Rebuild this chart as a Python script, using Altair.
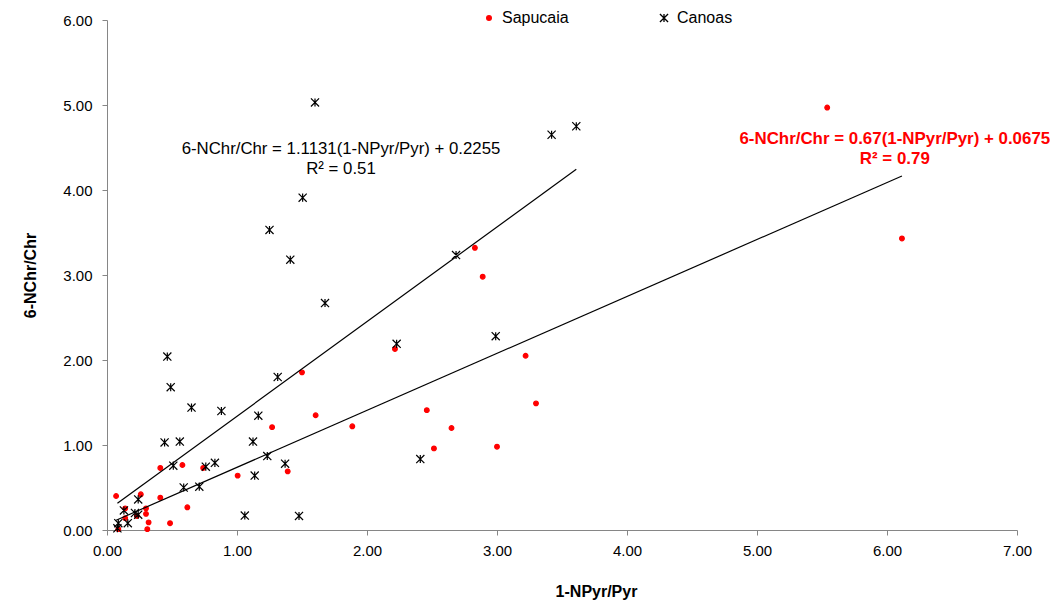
import altair as alt
import pandas as pd

# ---- data ----
sap_x = [5.54, 6.115, 2.83, 2.89, 2.215, 3.22, 1.50, 3.30, 2.46, 1.605, 1.887, 1.27, 2.65,
         2.515, 3.00, 1.39, 1.005, 0.74, 0.58, 0.41, 0.07, 0.26, 0.41, 0.618, 0.30, 0.14,
         0.30, 0.14, 0.32, 0.485, 0.31, 0.087, 0.23]
sap_y = [4.97, 3.43, 3.32, 2.98, 2.13, 2.05, 1.855, 1.49, 1.41, 1.35, 1.22, 1.21, 1.20,
         0.96, 0.98, 0.69, 0.64, 0.73, 0.765, 0.73, 0.40, 0.42, 0.38, 0.267, 0.255, 0.255,
         0.19, 0.14, 0.09, 0.08, 0.01, 0.01, 0.165]

can_x = [1.60, 3.42, 3.61, 1.505, 1.25, 1.41, 2.685, 1.677, 2.228, 2.99, 0.464, 0.49,
         1.313, 0.65, 0.88, 1.164, 0.443, 0.56, 1.123, 1.233, 0.51, 0.83, 0.76, 1.37,
         2.41, 0.59, 0.71, 1.136, 1.06, 1.477, 0.24, 0.13, 0.215, 0.24, 0.16, 0.087, 0.08]
can_y = [5.03, 4.65, 4.75, 3.91, 3.53, 3.18, 3.235, 2.67, 2.19, 2.28, 2.04, 1.68,
         1.80, 1.44, 1.40, 1.345, 1.03, 1.04, 1.04, 0.87, 0.757, 0.79, 0.745, 0.78,
         0.835, 0.50, 0.51, 0.64, 0.17, 0.165, 0.36, 0.23, 0.20, 0.18, 0.08, 0.08, 0.02]

series_names = ["Sapucaia", "Canoas"]
series_colors = ["#FF0000", "#000000"]

# trendline coefficients (from the equations printed on the chart)
sap_slope, sap_intercept = 0.67, 0.0675
can_slope, can_intercept = 1.1131, 0.2255

x_ticks = [0, 1, 2, 3, 4, 5, 6, 7]
y_ticks = [0, 1, 2, 3, 4, 5, 6]

can_eq = ["6-NChr/Chr = 1.1131(1-NPyr/Pyr) + 0.2255", "R² = 0.51"]
can_eq_x = [1.8, 1.8]
can_eq_y = [4.48, 4.25]
sap_eq = ["6-NChr/Chr = 0.67(1-NPyr/Pyr) + 0.0675", "R² = 0.79"]
sap_eq_x = [6.06, 6.06]
sap_eq_y = [4.595, 4.365]

ASTERISK = "M-1,-1L1,1M-1,1L1,-1M0,-1L0,1"
FONT = "Liberation Sans"

# ---- tables ----
points = pd.DataFrame({
    "x": sap_x + can_x,
    "y": sap_y + can_y,
    "series": ["Sapucaia"] * len(sap_x) + ["Canoas"] * len(can_x),
})

lines = pd.DataFrame({
    "x": [min(sap_x), max(sap_x), min(can_x), max(can_x)],
    "y": [sap_slope * min(sap_x) + sap_intercept, sap_slope * max(sap_x) + sap_intercept,
          can_slope * min(can_x) + can_intercept, can_slope * max(can_x) + can_intercept],
    "series": ["Sapucaia", "Sapucaia", "Canoas", "Canoas"],
})

can_text = pd.DataFrame({"x": can_eq_x, "y": can_eq_y, "t": can_eq})
sap_text = pd.DataFrame({"x": sap_eq_x, "y": sap_eq_y, "t": sap_eq})

x_enc = alt.X("x:Q", scale=alt.Scale(domain=[0, 7], nice=False, zero=False),
              axis=alt.Axis(values=x_ticks, format=".2f", title="1-NPyr/Pyr",
                            titleX=489, titleY=61, titleBaseline="middle",
                            titleAlign="center", labelPadding=8, labelFlush=False))
y_enc = alt.Y("y:Q", scale=alt.Scale(domain=[0, 6], nice=False, zero=False),
              axis=alt.Axis(values=y_ticks, format=".2f", title="6-NChr/Chr",
                            titleX=-77, titleY=255, titleBaseline="middle",
                            titleAlign="center", titleAngle=270, labelPadding=10,
                            labelFlush=False))

legend = alt.Legend(title=None, orient="none", legendX=374, legendY=-10,
                    direction="horizontal", columns=2, columnPadding=87,
                    gridAlign="all", labelFontSize=16, labelFont=FONT,
                    labelColor="#000000", symbolSize=40, symbolStrokeWidth=1.3,
                    labelOffset=5)

pts = alt.Chart(points).mark_point(opacity=1, strokeWidth=1.2, filled=False).encode(
    x=x_enc,
    y=y_enc,
    color=alt.Color("series:N", scale=alt.Scale(domain=series_names, range=series_colors),
                    legend=legend),
    shape=alt.Shape("series:N", scale=alt.Scale(domain=series_names, range=["circle", ASTERISK]),
                    legend=legend),
    fill=alt.Fill("series:N", scale=alt.Scale(domain=series_names, range=["#FF0000", "transparent"]),
                  legend=legend),
    size=alt.Size("series:N", scale=alt.Scale(domain=series_names, range=[22, 66]), legend=None),
)

trend = alt.Chart(lines).mark_line(color="#000000", strokeWidth=1.2).encode(
    x="x:Q", y="y:Q", detail="series:N"
)

txt_can = alt.Chart(can_text).mark_text(font=FONT, fontSize=16.8, color="#000000",
                                        align="center", baseline="middle").encode(
    x="x:Q", y="y:Q", text="t:N"
)
txt_sap = alt.Chart(sap_text).mark_text(font=FONT, fontSize=16.9, fontWeight="bold",
                                        color="#FF0000", align="center",
                                        baseline="middle").encode(
    x="x:Q", y="y:Q", text="t:N"
)

chart = alt.layer(pts, trend, txt_can, txt_sap).properties(
    width=910, height=510,
    autosize=alt.AutoSizeParams(type="none"),
    padding={"left": 107, "top": 20, "right": 39, "bottom": 82},
    background="white",
).configure_view(stroke=None).configure_axis(
    grid=False, labelFont=FONT, labelFontSize=15, labelColor="#000000",
    domainColor="#868686", tickColor="#868686", tickSize=5,
    titleFont=FONT, titleFontSize=16, titleFontWeight="bold", titleColor="#000000",
)

chart.save("out.html", embed_options={"renderer": "svg", "actions": False})
